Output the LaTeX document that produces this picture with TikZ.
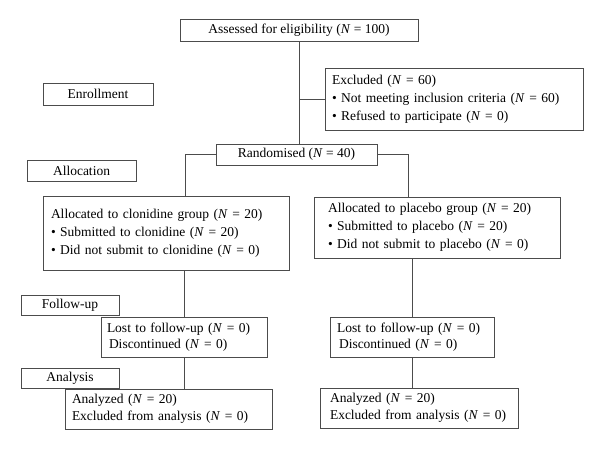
\documentclass[tikz,border=0pt]{standalone}
\usepackage{fontspec}
\setmainfont{Liberation Serif}
\newcommand\Nit{\textit{N}}
\begin{document}
\begin{tikzpicture}[x=1pt,y=-1pt,
  every node/.style={font=\fontsize{13.5}{18}\selectfont},
  box/.style={draw=black!70, line width=0.9pt, rectangle, inner ysep=0pt},
  lbl/.style={box, align=center, inner xsep=0pt},
  txt/.style={box, align=left},
  conn/.style={draw=black!70, line width=0.9pt}]
\useasboundingbox (0,0) rectangle (600,450);
% label boxes
\node[lbl, minimum width=110pt, minimum height=22pt] (enroll) at (98,94) {Enrollment};
\node[lbl, minimum width=109pt, minimum height=21pt] (alloc) at (81.5,170.5) {Allocation};
\node[lbl, minimum width=98pt, minimum height=20pt] (follow) at (70,305) {Follow-up};
\node[lbl, minimum width=98pt, minimum height=20pt] (anal) at (70,378) {Analysis};
% main boxes
\node[lbl, minimum width=238pt, minimum height=22pt] (assess) at (299,30) {Assessed for eligibility (\Nit{} = 100)};
\node[txt, inner xsep=7pt, text width=244pt, minimum height=62pt] (excl) at (454,99)
  {Excluded (\Nit{} = 60)\\ \textbullet{} Not meeting inclusion criteria (\Nit{} = 60)\\ \textbullet{} Refused to participate (\Nit{} = 0)};
\node[lbl, minimum width=161pt, minimum height=21pt] (rand) at (296.5,154.5) {Randomised (\Nit{} = 40)};
\node[txt, inner xsep=8pt, text width=230pt, minimum height=74pt] (clon) at (166,233)
  {Allocated to clonidine group (\Nit{} = 20)\\ \textbullet{} Submitted to clonidine (\Nit{} = 20)\\ \textbullet{} Did not submit to clonidine (\Nit{} = 0)};
\node[txt, inner xsep=14pt, text width=218pt, minimum height=61pt] (plac) at (437,227.5)
  {Allocated to placebo group (\Nit{} = 20)\\ \textbullet{} Submitted to placebo (\Nit{} = 20)\\ \textbullet{} Did not submit to placebo (\Nit{} = 0)};
\node[txt, inner xsep=6pt, text width=154pt, minimum height=40pt,
  font=\fontsize{13.5}{16}\selectfont] (lostL) at (184,337)
  {Lost to follow-up (\Nit{} = 0)\\ \hspace*{2pt}Discontinued (\Nit{} = 0)};
\node[txt, inner xsep=7pt, text width=150pt, minimum height=40pt,
  font=\fontsize{13.5}{16}\selectfont] (lostR) at (412,337)
  {Lost to follow-up (\Nit{} = 0)\\ \hspace*{2pt}Discontinued (\Nit{} = 0)};
\node[txt, inner xsep=7pt, text width=193pt, minimum height=40pt,
  font=\fontsize{13.5}{17}\selectfont] (anaL) at (168.5,409)
  {Analyzed (\Nit{} = 20)\\ Excluded from analysis (\Nit{} = 0)};
\node[txt, inner xsep=10pt, text width=178pt, minimum height=40pt,
  font=\fontsize{13.5}{17}\selectfont] (anaR) at (419,408)
  {Analyzed (\Nit{} = 20)\\ Excluded from analysis (\Nit{} = 0)};
% connectors
\draw[conn] (assess.south) -- (assess.south |- rand.north);
\draw[conn] (assess.south |- excl.west) -- (excl.west);
\draw[conn] (rand.west) -| ([xshift=19pt]clon.north);
\draw[conn] (rand.east) -| ([xshift=-29pt]plac.north);
\draw[conn] (lostL.north |- clon.south) -- (lostL.north);
\draw[conn] (lostL.south) -- (lostL.south |- anaL.north);
\draw[conn] (lostR.north |- plac.south) -- (lostR.north);
\draw[conn] (lostR.south) -- (lostR.south |- anaR.north);
\end{tikzpicture}
\end{document}
